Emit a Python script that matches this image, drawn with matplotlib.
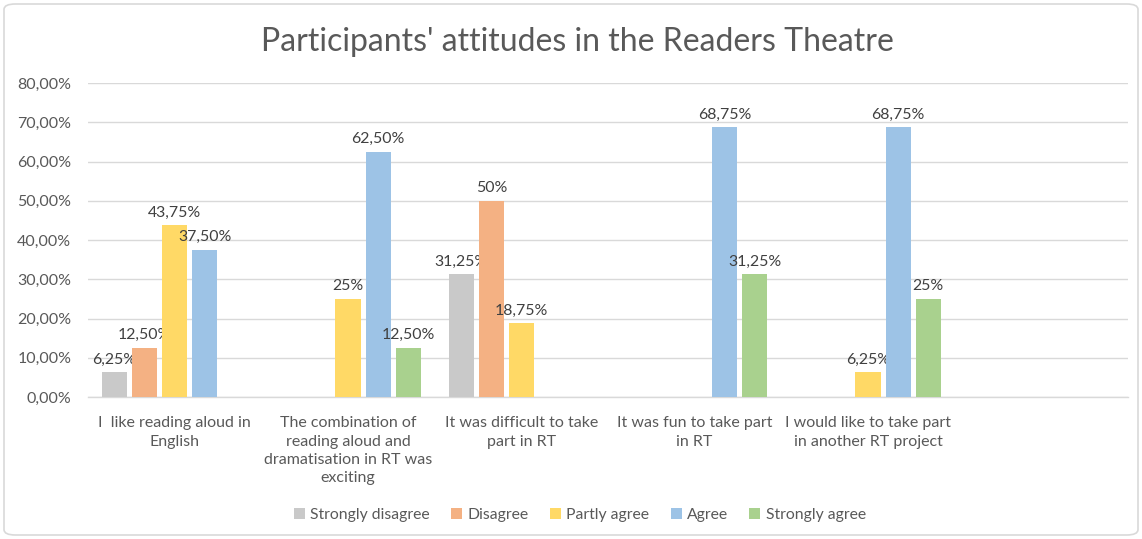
import matplotlib
matplotlib.use("Agg")
import matplotlib.pyplot as plt
from matplotlib.patches import FancyBboxPatch
import numpy as np

# ---- data ----
categories = [
    "I  like reading aloud in\nEnglish",
    "The combination of\nreading aloud and\ndramatisation in RT was\nexciting",
    "It was difficult to take\npart in RT",
    "It was fun to take part\nin RT",
    "I would like to take part\nin another RT project",
    "",
]
series_names = ["Strongly disagree", "Disagree", "Partly agree", "Agree", "Strongly agree"]
strongly_disagree = [0.0625, 0, 0.3125, 0, 0, 0]
disagree = [0.125, 0, 0.50, 0, 0, 0]
partly_agree = [0.4375, 0.25, 0.1875, 0, 0.0625, 0]
agree = [0.375, 0.625, 0, 0.6875, 0.6875, 0]
strongly_agree = [0, 0.125, 0, 0.3125, 0.25, 0]
series_values = [strongly_disagree, disagree, partly_agree, agree, strongly_agree]

lbl_strongly_disagree = ["6,25%", "", "31,25%", "", "", ""]
lbl_disagree = ["12,50%", "", "50%", "", "", ""]
lbl_partly_agree = ["43,75%", "25%", "18,75%", "", "6,25%", ""]
lbl_agree = ["37,50%", "62,50%", "", "68,75%", "68,75%", ""]
lbl_strongly_agree = ["", "12,50%", "", "31,25%", "25%", ""]
series_labels = [lbl_strongly_disagree, lbl_disagree, lbl_partly_agree, lbl_agree, lbl_strongly_agree]

ytick_vals = [0, 0.1, 0.2, 0.3, 0.4, 0.5, 0.6, 0.7, 0.8]
ytick_labels = ["0,00%", "10,00%", "20,00%", "30,00%", "40,00%", "50,00%", "60,00%", "70,00%", "80,00%"]

colors = ["#C9C9C9", "#F4B183", "#FFD966", "#9DC3E6", "#A9D18E"]

FONT = ["Lato", "DejaVu Sans"]
plt.rcParams['font.family'] = FONT

W, H = 1142, 539
fig = plt.figure(figsize=(W / 100, H / 100), dpi=100)
fig.patch.set_facecolor("white")

# border
border = FancyBboxPatch((4 / W, 4 / H), 1 - 8 / W, 1 - 8 / H,
                        boxstyle="round,pad=0,rounding_size=0.01",
                        transform=fig.transFigure, facecolor="none",
                        edgecolor="#D9D9D9", linewidth=1.2)
fig.patches.append(border)

ax = fig.add_axes([88 / W, 1 - 397 / H, (1128 - 88) / W, (397 - 83) / H])

x = np.arange(len(categories))
pitch = 30 / 173.3
bw = 25 / 173.3

handles = []
for i, (name, vals, labs, c) in enumerate(zip(series_names, series_values, series_labels, colors)):
    pos = x + (i - 2) * pitch
    b = ax.bar(pos, vals, width=bw, color=c, label=name, zorder=3)
    handles.append(b)
    for p, v, t in zip(pos, vals, labs):
        if t:
            ax.annotate(t, (p, v), xytext=(0, 4), textcoords="offset points",
                        ha="center", va="bottom", fontsize=11.4, color="#404040")

ax.set_xlim(-0.5, len(categories) - 0.5)
ax.set_ylim(0, 0.8)
ax.set_yticks(ytick_vals)
ax.set_yticklabels(ytick_labels, fontsize=11.5, color="#595959")
ax.set_xticks(x)
ax.set_xticklabels(categories, fontsize=11.5, color="#595959", linespacing=1.38)
ax.tick_params(axis="both", length=0)
ax.tick_params(axis="y", pad=12)
ax.tick_params(axis="x", pad=14)
ax.grid(axis="y", color="#D9D9D9", linewidth=1, zorder=0)
for s in ["top", "right", "left"]:
    ax.spines[s].set_visible(False)
ax.spines["bottom"].set_color("#D9D9D9")
ax.spines["bottom"].set_linewidth(1)

fig.text(577 / W, 1 - 42 / H, "Participants' attitudes in the Readers Theatre",
         ha="center", va="center", fontsize=23, color="#595959")

fig.legend(handles=handles, labels=series_names, loc="center",
           bbox_to_anchor=(580 / W, 1 - 515 / H), ncol=5, frameon=False,
           fontsize=11.3, handlelength=0.7, handleheight=0.7,
           handletextpad=0.35, columnspacing=1.35, labelcolor="#595959")

fig.savefig("out.png", dpi=100, facecolor="white")
